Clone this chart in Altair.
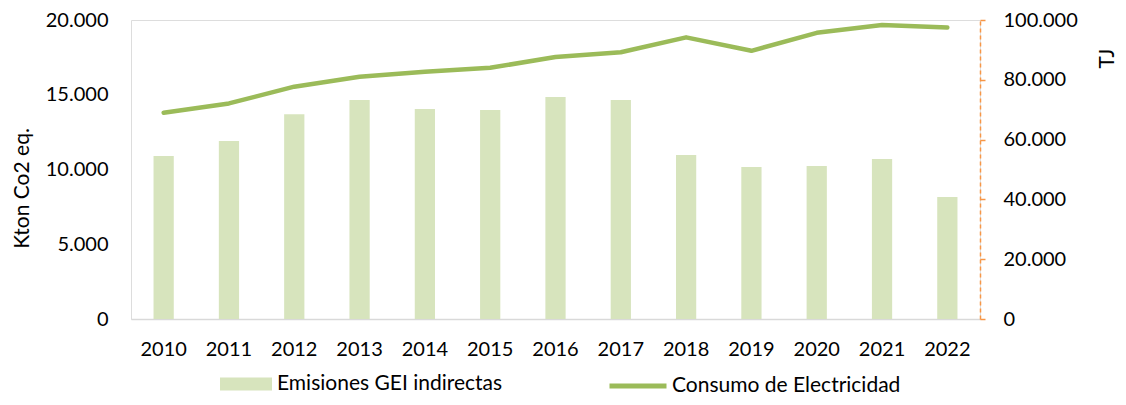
import altair as alt
import pandas as pd

years = ["2010", "2011", "2012", "2013", "2014", "2015", "2016",
         "2017", "2018", "2019", "2020", "2021", "2022"]
emisiones = [10900, 11900, 13700, 14650, 14050, 13980, 14850,
             14650, 10970, 10170, 10230, 10700, 8160]
consumo = [69000, 72100, 77700, 81000, 82700, 84000, 87600,
           89200, 94200, 89700, 95700, 98300, 97500]

bar_name = "Emisiones GEI indirectas"
line_name = "Consumo de Electricidad"

df = pd.DataFrame({"year": years, "emisiones": emisiones, "consumo": consumo,
                   "bar_s": bar_name, "line_s": line_name})

FONT = "Lato"
FS = 20
TFS = 21
label_expr = "replace(format(datum.value, ',.0f'), ',', '.')"

x = alt.X("year:N", title=None,
          scale=alt.Scale(paddingInner=0.69, paddingOuter=0.345),
          axis=alt.Axis(labelAngle=0, ticks=False, domainColor="#D9D9D9",
                        domainWidth=1.5, labelPadding=20, labelFont=FONT,
                        labelFontSize=FS, labelColor="#000000", grid=False))

bars = alt.Chart(df).mark_bar(color="#D7E4BD").encode(
    x=x,
    y=alt.Y("emisiones:Q", title="Kton Co2 eq.",
            scale=alt.Scale(domain=[0, 20000], nice=False),
            axis=alt.Axis(values=[0, 5000, 10000, 15000, 20000], labelExpr=label_expr,
                          domain=False, ticks=False, grid=False, labelPadding=23,
                          labelFont=FONT, labelFontSize=FS, labelColor="#000000",
                          titleFont=FONT, titleFontSize=TFS, titleFontWeight="normal",
                          titleColor="#000000", titleX=-109, titleY=168,
                          titleAlign="center", titleBaseline="middle", titleAngle=270)),
    fill=alt.Fill("bar_s:N", title=None,
                  scale=alt.Scale(domain=[bar_name], range=["#D7E4BD"]),
                  legend=alt.Legend(orient="none", legendX=89, legendY=338,
                                    symbolType="M-1,-0.25H1V0.25H-1Z", symbolSize=2704,
                                    symbolStrokeWidth=0, labelFont=FONT, labelFontSize=TFS,
                                    labelColor="#000000", labelOffset=5, labelLimit=400,
                                    padding=0)),
)

line = alt.Chart(df).mark_line(color="#9BBB59", strokeWidth=4.5, strokeCap="round",
                               strokeJoin="round").encode(
    x=x,
    y=alt.Y("consumo:Q", title="TJ",
            scale=alt.Scale(domain=[0, 100000], nice=False),
            axis=alt.Axis(orient="right", values=[0, 20000, 40000, 60000, 80000, 100000],
                          labelExpr=label_expr, domainColor="#F79646", domainDash=[4, 3],
                          domainWidth=1.5, tickColor="#F79646", tickSize=5, tickWidth=1.5,
                          grid=False, labelPadding=18, labelFont=FONT, labelFontSize=FS,
                          labelColor="#000000", titleFont=FONT, titleFontSize=TFS,
                          titleFontWeight="normal", titleColor="#000000", titleAngle=270,
                          titleX=127, titleY=38, titleAlign="center",
                          titleBaseline="middle")),
    stroke=alt.Stroke("line_s:N", title=None,
                      scale=alt.Scale(domain=[line_name], range=["#9BBB59"]),
                      legend=alt.Legend(orient="none", legendX=476, legendY=335,
                                        symbolType="stroke", symbolSize=3249,
                                        symbolStrokeWidth=5, labelFont=FONT,
                                        labelFontSize=TFS, labelColor="#000000",
                                        labelOffset=3, labelLimit=400, padding=0)),
)

chart = alt.layer(bars, line).resolve_scale(
    y="independent", fill="independent", stroke="independent"
).properties(
    width=849, height=299,
    autosize=alt.AutoSizeParams(type="none"),
    padding={"left": 123, "top": 12, "right": 138, "bottom": 78},
).configure_view(stroke=None).configure(background="white")

chart.save("out.html", embed_options={"renderer": "svg", "actions": False})
